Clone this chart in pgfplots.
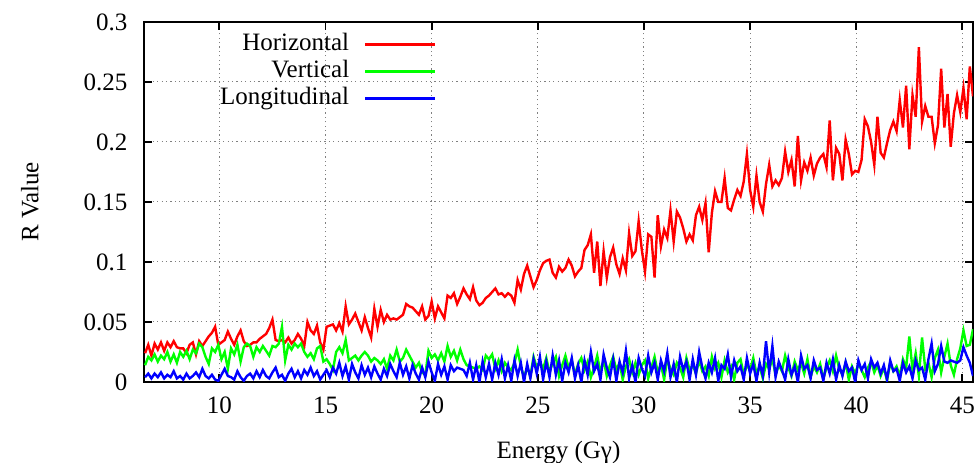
\documentclass[border=0pt]{standalone}
\usepackage{fontspec}
\setmainfont{Liberation Serif}
\usepackage{pgfplots}
\usepackage{pgfplotstable}
\pgfplotsset{compat=1.18}
\pgfplotstableread{
x H V L
6.50 .024 .014 .004
6.65 .031 .021 .007
6.80 .022 .018 .003
6.95 .032 .023 .007
7.10 .027 .017 .004
7.25 .033 .022 .008
7.40 .026 .019 .003
7.55 .033 .025 .006
7.70 .029 .017 .004
7.85 .034 .023 .009
8.00 .029 .016 .003
8.15 .028 .025 .005
8.30 .028 .021 .002
8.45 .024 .026 .007
8.60 .031 .019 .003
8.75 .033 .027 .005
8.90 .023 .024 .008
9.05 .034 .032 .004
9.20 .030 .029 .011
9.35 .034 .021 .005
9.50 .038 .015 .003
9.65 .041 .028 .006
9.80 .046 .025 .002
9.95 .031 .031 .001
10.10 .033 .019 .006
10.25 .035 .025 .011
10.40 .042 .011 .005
10.55 .036 .028 .004
10.70 .031 .023 .002
10.85 .038 .031 .009
11.00 .043 .017 .004
11.15 .034 .029 .001
11.30 .030 .032 .005
11.45 .031 .030 .007
11.60 .033 .021 .003
11.75 .033 .029 .009
11.90 .036 .025 .004
12.05 .038 .030 .010
12.20 .040 .026 .005
12.35 .045 .022 .003
12.50 .052 .030 .008
12.65 .035 .029 .012
12.80 .034 .032 .004
12.95 .035 .046 .006
13.10 .033 .018 .001
13.25 .037 .031 .007
13.40 .032 .027 .011
13.55 .035 .032 .004
13.70 .040 .029 .009
13.85 .036 .032 .003
14.00 .030 .025 .010
14.15 .050 .021 .006
14.30 .043 .024 .012
14.45 .040 .019 .005
14.60 .047 .028 .009
14.75 .033 .030 .002
14.90 .027 .017 .006
15.05 .046 .019 .010
15.20 .047 .015 .004
15.35 .048 .010 .012
15.50 .043 .025 .007
15.65 .049 .029 .016
15.80 .042 .024 .005
15.95 .063 .035 .013
16.10 .048 .018 .002
16.25 .052 .020 .015
16.40 .057 .022 .008
16.55 .050 .018 .003
16.70 .043 .022 .014
16.85 .054 .025 .006
17.00 .045 .022 .012
17.15 .037 .017 .004
17.30 .061 .020 .013
17.45 .046 .018 .007
17.60 .060 .015 .002
17.75 .050 .019 .011
17.90 .056 .011 .005
18.05 .052 .022 .015
18.20 .053 .018 .009
18.35 .052 .027 .004
18.50 .054 .017 .016
18.65 .056 .020 .006
18.80 .065 .027 .013
18.95 .063 .022 .003
19.10 .062 .017 .014
19.25 .059 .012 .007
19.40 .056 .016 .002
19.55 .063 .008 .012
19.70 .052 .006 .004
19.85 .055 .026 .017
20.00 .067 .020 .008
20.15 .053 .023 .001
20.30 .063 .018 .015
20.45 .058 .024 .006
20.60 .053 .017 .013
20.75 .072 .030 .002
20.90 .070 .021 .014
21.05 .074 .026 .009
21.20 .065 .018 .012
21.35 .071 .027 .011
21.50 .078 .019 .010
21.65 .073 .014 .005
21.80 .069 .013 .016
21.95 .079 .012 .002
22.10 .068 .011 .014
22.25 .064 .013 .000
22.40 .066 .010 .017
22.55 .070 .022 .004
22.70 .072 .019 .015
22.85 .075 .023 .002
23.00 .078 .011 .016
23.15 .073 .018 .006
23.30 .074 .009 .019
23.45 .071 .016 .003
23.60 .074 .012 .014
23.75 .072 .010 .001
23.90 .066 .016 .018
24.05 .085 .027 .005
24.20 .077 .013 .016
24.35 .090 .004 .000
24.50 .097 .012 .015
24.65 .088 .005 .003
24.80 .079 .021 .019
24.95 .085 .012 .007
25.10 .093 .017 .021
25.25 .099 .011 .002
25.40 .101 .020 .017
25.55 .102 .008 .004
25.70 .091 .016 .022
25.85 .087 .021 .006
26.00 .096 .005 .018
26.15 .092 .014 .001
26.30 .095 .022 .016
26.45 .102 .012 .008
26.60 .097 .018 .020
26.75 .088 .006 .003
26.90 .092 .015 .014
27.05 .095 .020 .000
27.20 .110 .010 .018
27.35 .114 .017 .006
27.50 .123 .004 .025
27.65 .091 .012 .009
27.80 .117 .022 .015
27.95 .080 .008 .002
28.10 .109 .018 .023
28.25 .087 .005 .012
28.40 .104 .014 .004
28.55 .112 .021 .019
28.70 .098 .010 .001
28.85 .090 .016 .017
29.00 .103 .002 .008
29.15 .093 .013 .026
29.30 .124 .019 .003
29.45 .105 .008 .014
29.60 .109 .016 .000
29.75 .134 .006 .020
29.90 .110 .014 .011
30.05 .092 .018 .005
30.20 .123 .003 .022
30.35 .121 .012 .008
30.50 .087 .021 .016
30.65 .139 .008 .002
30.80 .113 .015 .018
30.95 .127 .002 .009
31.10 .120 .019 .024
31.25 .143 .011 .004
31.40 .117 .006 .015
31.55 .142 .016 .000
31.70 .137 .012 .021
31.85 .128 .004 .010
32.00 .117 .020 .017
32.15 .123 .010 .002
32.30 .118 .014 .019
32.45 .139 .007 .006
32.60 .146 .018 .025
32.75 .135 .009 .012
32.90 .149 .013 .003
33.05 .108 .005 .016
33.20 .141 .021 .008
33.35 .159 .011 .020
33.50 .150 .016 .001
33.65 .150 .004 .014
33.80 .170 .018 .011
33.95 .145 .008 .023
34.10 .143 .013 .004
34.25 .152 .002 .018
34.40 .160 .016 .009
34.55 .155 .019 .013
34.70 .167 .006 .002
34.85 .190 .014 .020
35.00 .160 .010 .007
35.15 .146 .020 .015
35.30 .172 .007 .001
35.45 .150 .013 .016
35.60 .142 .003 .005
35.75 .165 .015 .034
35.90 .181 .011 .008
36.05 .163 .019 .030
36.20 .168 .006 .004
36.35 .164 .014 .017
36.50 .170 .009 .010
36.65 .192 .022 .002
36.80 .175 .012 .019
36.95 .185 .005 .006
37.10 .163 .017 .013
37.25 .205 .010 .000
37.40 .168 .016 .022
37.55 .183 .007 .011
37.70 .176 .019 .014
37.85 .187 .004 .003
38.00 .172 .013 .018
38.15 .182 .008 .010
38.30 .187 .015 .012
38.45 .190 .003 .001
38.60 .179 .012 .016
38.75 .218 .018 .007
38.90 .168 .009 .019
39.05 .195 .022 .002
39.20 .190 .011 .014
39.35 .168 .006 .005
39.50 .202 .016 .017
39.65 .190 .002 .009
39.80 .173 .013 .012
39.95 .176 .007 .000
40.10 .175 .015 .018
40.25 .185 .010 .010
40.40 .219 .004 .015
40.55 .213 .012 .003
40.70 .200 .017 .019
40.85 .181 .008 .012
41.00 .221 .014 .016
41.15 .191 .005 .007
41.30 .187 .012 .014
41.45 .199 .001 .002
41.60 .210 .016 .018
41.75 .217 .009 .009
41.90 .209 .013 .011
42.05 .235 .005 .001
42.20 .212 .019 .016
42.35 .247 .012 .008
42.50 .194 .038 .013
42.65 .239 .010 .003
42.80 .221 .024 .018
42.95 .279 .005 .010
43.10 .217 .037 .012
43.25 .230 .011 .002
43.40 .221 .016 .019
43.55 .221 .004 .032
43.70 .199 .020 .009
43.85 .214 .027 .015
44.00 .261 .008 .030
44.15 .212 .021 .017
44.30 .240 .032 .016
44.45 .196 .014 .018
44.60 .224 .006 .017
44.75 .239 .019 .016
44.90 .225 .028 .018
45.05 .245 .043 .029
45.20 .219 .030 .022
45.35 .263 .031 .016
45.50 .238 .044 .005
}\datatable
\begin{document}
\fontsize{12.5bp}{15bp}\selectfont
\begin{tikzpicture}
\useasboundingbox (-72bp,-40.5bp) rectangle (418bp,191bp);
\begin{axis}[
  scale only axis,
  width=414.5bp, height=180bp,
  xmin=6.45, xmax=45.5,
  ymin=0, ymax=0.3,
  xtick={10,15,...,45},
  ytick={0,0.05,0.1,0.15,0.2,0.25,0.3},
  tick pos=both,
  tick align=inside,
  major tick length=4bp,
  axis line style={line width=0.9bp},
  every tick/.style={black, line width=0.9bp},
  grid=major,
  grid style={gray, line width=0.5bp, dash pattern=on 0.6bp off 1.6bp},
  /pgf/number format/assume math mode=true,
  yticklabel style={/pgf/number format/fixed, /pgf/number format/precision=2},
  yticklabel shift=4bp,
  xticklabel shift=3bp,
  xlabel={Energy (Gγ)},
  ylabel={R Value},
  xlabel style={at={(axis description cs:0.5,0)}, anchor=center, yshift=-35.5bp},
  ylabel style={at={(axis description cs:0,0.5)}, anchor=center, yshift=57bp},
  legend plot pos=right,
  legend cell align=right,
  legend image code/.code={\draw[#1] (0bp,0bp) -- (35bp,0bp);},
  legend style={draw=none, fill=none, at={(rel axis cs:0.3534,1)}, anchor=north east,
    yshift=-4.5bp, inner sep=0pt, row sep=0.5bp, column sep=6.5bp,
    nodes={inner sep=1bp, text height=8.5bp, text depth=2.5bp}},
]
\addplot[red, line width=1.2bp] table[x=x, y=H] {\datatable};
\addlegendentry{Horizontal}
\addplot[green, line width=1.2bp] table[x=x, y=V] {\datatable};
\addlegendentry{Vertical}
\addplot[blue, line width=1.2bp] table[x=x, y=L] {\datatable};
\addlegendentry{Longitudinal}
\end{axis}
\end{tikzpicture}
\end{document}
